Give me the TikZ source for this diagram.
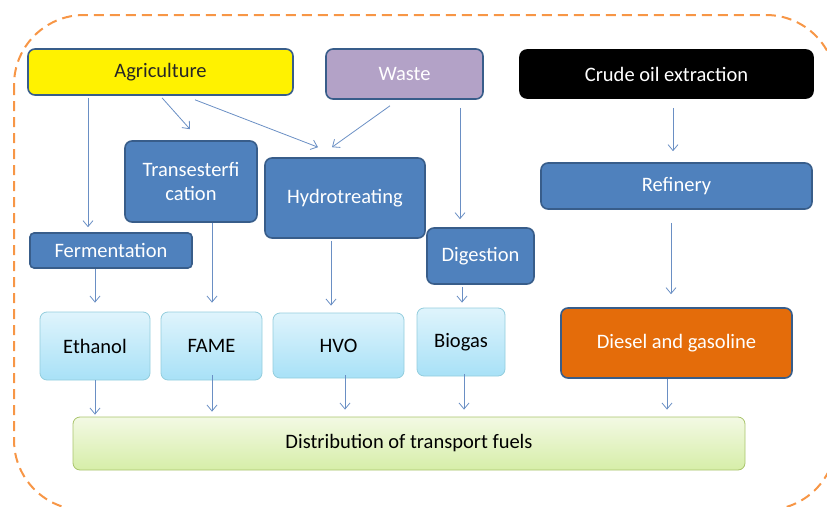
\documentclass[tikz,border=0pt]{standalone}
\usepackage{fontspec}
\setmainfont{Carlito}
\usepackage{tikz}
\usetikzlibrary{arrows.meta, positioning, calc}
\definecolor{fuel_blue}{HTML}{4F81BD}
\definecolor{fuel_edge}{HTML}{385D8A}
\definecolor{fuel_lilac}{HTML}{B3A2C7}
\definecolor{fuel_orange}{HTML}{E46C0A}
\definecolor{fuel_dash}{HTML}{F79646}
\definecolor{fuel_arrow}{HTML}{6A8FC4}
\definecolor{sky_top}{HTML}{DFF4FC}
\definecolor{sky_bot}{HTML}{A8E1F7}
\definecolor{sky_edge}{HTML}{93CDDD}
\definecolor{lime_top}{HTML}{F3F9E4}
\definecolor{lime_bot}{HTML}{D6EEA8}
\definecolor{lime_edge}{HTML}{A9C46C}
\tikzset{
  box/.style={rectangle,rounded corners=7pt,line width=1.6pt,draw=fuel_edge,inner sep=2pt,align=center,font=\fontsize{20.5}{24}\selectfont},
  source/.style={box,fill=#1},
  process/.style={box,fill=fuel_blue,text=white},
  product/.style={box,line width=0.8pt,draw=sky_edge,top color=sky_top,bottom color=sky_bot,text=black},
  market/.style={box,line width=0.8pt,draw=lime_edge,top color=lime_top,bottom color=lime_bot,text=black},
  flow/.style={-{Straight Barb[length=6pt,width=10pt]},fuel_arrow,line width=0.8pt},
}
\begin{document}
\begin{tikzpicture}[x=1pt,y=-1pt]
  \useasboundingbox (0,0) rectangle (827,506);
  \begin{scope}
    \clip (0,0) rectangle (827,506);
    \draw[fuel_dash,line width=2pt,dash pattern=on 10pt off 6pt,rounded corners=70pt] (14,15) rectangle (836,510);
  \end{scope}
  % sources
  \node[source=yellow,text=black!85,minimum width=265pt,minimum height=46pt] (agri) at (160.5,72) {Agriculture};
  \node[source=fuel_lilac,text=white,minimum width=157pt,minimum height=50pt] (waste) at (404.5,74) {Waste};
  \node[source=black,draw=black,text=white,minimum width=293pt,minimum height=48pt] (crude) at (666.5,74) {Crude oil extraction};
  % processes
  \node[process,minimum width=132pt,minimum height=81pt] (trans) at (191,181.5) {Transesterfi\\cation};
  \node[process,minimum width=160pt,minimum height=80pt] (hydro) at (345,198) {Hydrotreating};
  \node[process,rounded corners=4pt,minimum width=162pt,minimum height=35pt] (ferm) at (111,250.5) {Fermentation};
  \node[process,minimum width=107pt,minimum height=56pt] (dig) at (480.5,256) {Digestion};
  \node[process,minimum width=271pt,minimum height=46pt] (refin) at (676.5,186) {Refinery};
  % products
  \node[product,minimum width=110pt,minimum height=68pt] (eth) at (95,346) {Ethanol};
  \node[product,minimum width=101pt,minimum height=68pt] (fame) at (211.5,346) {FAME};
  \node[product,minimum width=131pt,minimum height=65pt] (hvo) at (338.5,345.5) {HVO};
  \node[product,minimum width=88pt,minimum height=68pt] (bio) at (461,342) {Biogas};
  \node[source=fuel_orange,text=white,minimum width=231pt,minimum height=70pt] (diesel) at (676.5,343) {Diesel and gasoline};
  \node[market,minimum width=672pt,minimum height=53pt] (dist) at (409,443.5) {Distribution of transport fuels};
  % flows
  \draw[flow] ([xshift=-72.5pt,yshift=-2pt]agri.south) -- ([xshift=-23pt,yshift=5pt]ferm.north);
  \draw[flow] ([xshift=1.5pt,yshift=-2pt]agri.south) -- ([xshift=-1pt,yshift=11pt]trans.north);
  \draw[flow] ([xshift=34.5pt,yshift=-4pt]agri.south) -- ([xshift=-27pt,yshift=10pt]hydro.north);
  \draw[flow] ([xshift=-14.5pt,yshift=-6pt]waste.south) -- ([xshift=-13pt,yshift=10pt]hydro.north);
  \draw[flow] ([xshift=55.5pt,yshift=-8pt]waste.south) -- ([xshift=-20.5pt,yshift=8pt]dig.north);
  \draw[flow] ([xshift=6.5pt,yshift=-9pt]crude.south) -- ([xshift=-3.5pt,yshift=11pt]refin.north);
  \draw[flow] ([xshift=-5.5pt,yshift=-13pt]refin.south) -- ([xshift=-5.5pt,yshift=13pt]diesel.north);
  \draw[flow] ([xshift=-16pt]ferm.south) -- ([yshift=9pt]eth.north);
  \draw[flow] ([xshift=21pt]trans.south) -- ([xshift=0.5pt,yshift=9pt]fame.north);
  \draw[flow] ([xshift=-14pt,yshift=-2pt]hydro.south) -- ([xshift=-7.5pt,yshift=7pt]hvo.north);
  \draw[flow] ([xshift=-18.5pt,yshift=-2pt]dig.south) -- ([xshift=1pt,yshift=5pt]bio.north);
  \draw[flow] (eth.south) -- ([xshift=-314pt,yshift=2pt]dist.north);
  \draw[flow] ([xshift=0.5pt,yshift=5pt]fame.south) -- ([xshift=-197pt,yshift=5pt]dist.north);
  \draw[flow] ([xshift=6.5pt,yshift=3pt]hvo.south) -- ([xshift=-64pt,yshift=7pt]dist.north);
  \draw[flow] ([xshift=3pt,yshift=2pt]bio.south) -- ([xshift=55pt,yshift=7pt]dist.north);
  \draw[flow] ([xshift=-9.5pt]diesel.south) -- ([xshift=258pt,yshift=7pt]dist.north);
\end{tikzpicture}
\end{document}
